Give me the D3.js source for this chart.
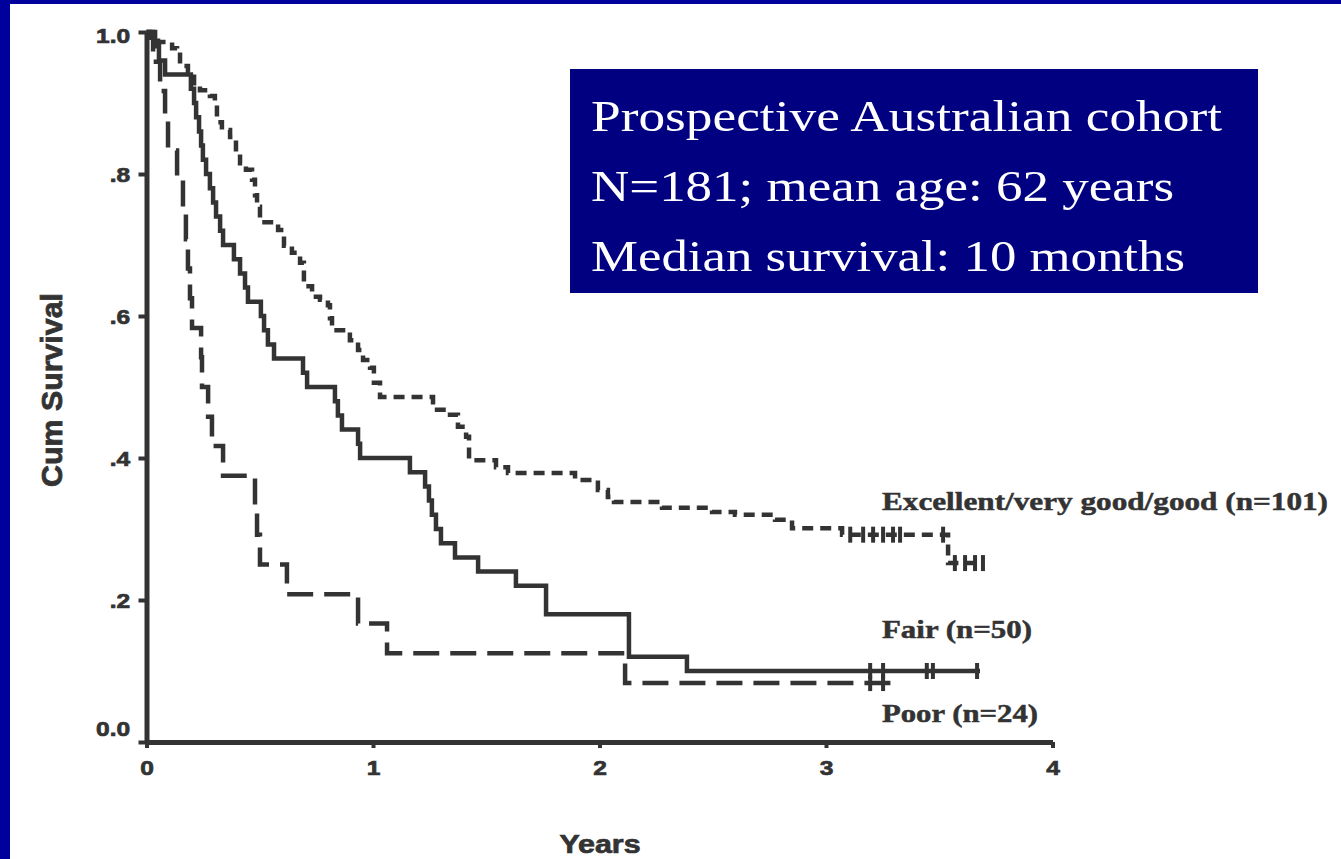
<!DOCTYPE html>
<html>
<head>
<meta charset="utf-8">
<script src="https://cdn.jsdelivr.net/npm/d3@7"></script>
<style>
  html, body { margin: 0; padding: 0; background: #ffffff; }
  svg { display: block; }
</style>
</head>
<body>
<svg id="chart" width="1341" height="859"></svg>
<script>
// Kaplan–Meier cumulative survival by performance-status group.
// Each group: times (years) at which survival steps down, and the level after the step.

const groupNames = ["Excellent/very good/good (n=101)", "Fair (n=50)", "Poor (n=24)"];

const excellentTimes = [0.015, 0.051, 0.113, 0.135, 0.148, 0.183, 0.210, 0.236, 0.280, 0.302,
  0.311, 0.333, 0.369, 0.395, 0.413, 0.439, 0.466, 0.479, 0.488, 0.501,
  0.581, 0.607, 0.642, 0.678, 0.695, 0.731, 0.766, 0.801, 0.810, 0.819,
  0.898, 0.934, 0.956, 0.987, 1.004, 1.031, 1.265, 1.340, 1.375, 1.411,
  1.424, 1.543, 1.596, 1.892, 1.993, 2.037, 2.064, 2.276, 2.497, 2.598,
  2.775, 2.850, 3.071, 3.539];
const excellentSurv = [0.992, 0.986, 0.977, 0.968, 0.952, 0.944, 0.924, 0.918, 0.910, 0.899,
  0.873, 0.862, 0.852, 0.831, 0.815, 0.806, 0.792, 0.770, 0.754, 0.732,
  0.721, 0.699, 0.689, 0.675, 0.642, 0.627, 0.623, 0.615, 0.597, 0.580,
  0.566, 0.552, 0.538, 0.527, 0.506, 0.486, 0.468, 0.461, 0.444, 0.430,
  0.397, 0.387, 0.379, 0.369, 0.355, 0.345, 0.338, 0.330, 0.324, 0.320,
  0.313, 0.301, 0.292, 0.252];
const excellentCensored = [3.107, 3.164, 3.208, 3.252, 3.296, 3.327, 3.517, 3.569, 3.614, 3.658, 3.693];
const excellentEnd = 3.693;

const fairTimes = [0.038, 0.055, 0.082, 0.196, 0.210, 0.219, 0.232, 0.241, 0.249, 0.263,
  0.280, 0.294, 0.307, 0.325, 0.338, 0.386, 0.413, 0.435, 0.448, 0.505,
  0.519, 0.536, 0.563, 0.691, 0.709, 0.832, 0.845, 0.863, 0.934, 0.943,
  1.163, 1.230, 1.247, 1.260, 1.278, 1.300, 1.362, 1.464, 1.631, 1.764,
  2.130, 2.386];
const fairSurv = [0.98, 0.96, 0.94, 0.92, 0.90, 0.88, 0.86, 0.84, 0.82, 0.80,
  0.78, 0.76, 0.74, 0.72, 0.70, 0.68, 0.66, 0.64, 0.62, 0.60,
  0.58, 0.56, 0.54, 0.52, 0.50, 0.48, 0.46, 0.44, 0.42, 0.40,
  0.38, 0.36, 0.34, 0.32, 0.30, 0.28, 0.26, 0.24, 0.22, 0.18,
  0.12, 0.10];
const fairCensored = [3.195, 3.252, 3.445, 3.472, 3.667];
const fairEnd = 3.680;

const poorTimes = [0.029, 0.060, 0.082, 0.095, 0.135, 0.161, 0.174, 0.183, 0.192, 0.201,
  0.241, 0.245, 0.272, 0.289, 0.338, 0.479, 0.488, 0.501, 0.620, 0.934,
  1.062, 2.113];
const poorSurv = [0.958, 0.917, 0.875, 0.833, 0.792, 0.750, 0.708, 0.667, 0.625, 0.583,
  0.542, 0.500, 0.458, 0.417, 0.375, 0.333, 0.292, 0.250, 0.208, 0.167,
  0.125, 0.083];
const poorCensored = [3.195, 3.252];
const poorEnd = 3.296;

const xTickValues = [0, 1, 2, 3, 4];
const yTickValues = [0, 0.2, 0.4, 0.6, 0.8, 1.0];
const yTickLabels = ["0.0", ".2", ".4", ".6", ".8", "1.0"];

const xTitle = "Years";
const yTitle = "Cum Survival";
const infoLines = ["Prospective Australian cohort", "N=181; mean age: 62 years", "Median survival: 10 months"];

// ---------------------------------------------------------------------------

const svg = d3.select("#chart");
const W = 1341, H = 859;
const ink = "#333333";
const stretch = 1.17;   // slide content is rendered slightly wide

svg.append("rect").attr("width", W).attr("height", H).attr("fill", "#ffffff");
// slide frame on the left and top
svg.append("rect").attr("x", 0).attr("y", 0).attr("width", 10).attr("height", H).attr("fill", "#00009c");
svg.append("rect").attr("x", 0).attr("y", 0).attr("width", W).attr("height", 4).attr("fill", "#00009c");

const x = d3.scaleLinear().domain([0, 4]).range([146.5, 1052.5]);
const y = d3.scaleLinear().domain([0, 1]).range([742, 32]);

// axes
const yAxis = d3.axisLeft(y)
  .tickValues(yTickValues)
  .tickFormat((d, i) => yTickLabels[i])
  .tickSize(8).tickSizeOuter(0).tickPadding(6);
const xAxis = d3.axisBottom(x)
  .tickValues(xTickValues)
  .tickFormat(d3.format("d"))
  .tickSize(6).tickSizeOuter(0).tickPadding(12);

const gy = svg.append("g").attr("transform", `translate(${x(0)},0)`).call(yAxis);
const gx = svg.append("g").attr("transform", `translate(0,${y(0)})`).call(xAxis);

[gx, gy].forEach(g => {
  g.select(".domain").attr("stroke", ink).attr("stroke-width", 5);
  g.selectAll(".tick line").attr("stroke", ink).attr("stroke-width", 4);
  g.selectAll(".tick text")
    .attr("fill", ink)
    .attr("stroke", ink).attr("stroke-width", 0.7)
    .style("font-family", "'Liberation Sans', Arial, sans-serif")
    .style("font-weight", "bold")
    .style("font-size", "21px");
});
gy.selectAll(".tick text")
  .attr("transform", d => `translate(0,${d === 0 ? -13 : (d === 1 ? 4 : 1)}) scale(${stretch},1)`);
gx.selectAll(".tick text").attr("transform", `scale(${stretch},1)`);

// survival curves
const line = d3.line()
  .x(d => x(d[0]))
  .y(d => y(d[1]))
  .curve(d3.curveStepAfter);

const series = [
  { times: excellentTimes, surv: excellentSurv, cens: excellentCensored, end: excellentEnd, dash: "11,7" },
  { times: fairTimes, surv: fairSurv, cens: fairCensored, end: fairEnd, dash: null },
  { times: poorTimes, surv: poorSurv, cens: poorCensored, end: poorEnd, dash: "26,11" }
];

function levelAt(s, t) {
  let v = 1;
  for (let i = 0; i < s.times.length; i++) if (s.times[i] <= t) v = s.surv[i];
  return v;
}

series.forEach(s => {
  const pts = [[0, 1]];
  s.times.forEach((t, i) => pts.push([t, s.surv[i]]));
  pts.push([s.end, s.surv[s.surv.length - 1]]);
  svg.append("path")
    .attr("d", line(pts))
    .attr("fill", "none")
    .attr("stroke", ink)
    .attr("stroke-width", 4.5)
    .attr("stroke-dasharray", s.dash)
    .attr("stroke-linejoin", "miter");

  svg.append("g").selectAll("line")
    .data(s.cens)
    .join("line")
    .attr("x1", d => x(d)).attr("x2", d => x(d))
    .attr("y1", d => y(levelAt(s, d)) - 8)
    .attr("y2", d => y(levelAt(s, d)) + 8)
    .attr("stroke", ink)
    .attr("stroke-width", 4);
});

// group labels
const labelPos = [
  { x: 882, y: 510, len: 446 },
  { x: 882, y: 638, len: 150 },
  { x: 882, y: 722, len: 156 }
];
svg.append("g").selectAll("text")
  .data(groupNames)
  .join("text")
  .attr("x", (d, i) => labelPos[i].x)
  .attr("y", (d, i) => labelPos[i].y)
  .attr("textLength", (d, i) => labelPos[i].len)
  .attr("lengthAdjust", "spacingAndGlyphs")
  .attr("fill", ink)
  .attr("stroke", ink).attr("stroke-width", 0.5)
  .style("font-family", "'Liberation Serif', 'Times New Roman', serif")
  .style("font-weight", "bold")
  .style("font-size", "26px")
  .text(d => d);

// axis titles
svg.append("text")
  .attr("transform", `translate(600,853) scale(${stretch},1)`)
  .attr("text-anchor", "middle")
  .attr("fill", ink).attr("stroke", ink).attr("stroke-width", 0.7)
  .style("font-family", "'Liberation Sans', Arial, sans-serif")
  .style("font-weight", "bold").style("font-size", "26px")
  .text(xTitle);

svg.append("text")
  .attr("transform", `translate(62,390) rotate(-90) scale(1,${stretch})`)
  .attr("text-anchor", "middle")
  .attr("textLength", 194).attr("lengthAdjust", "spacingAndGlyphs")
  .attr("fill", ink).attr("stroke", ink).attr("stroke-width", 0.7)
  .style("font-family", "'Liberation Sans', Arial, sans-serif")
  .style("font-weight", "bold").style("font-size", "26px")
  .text(yTitle);

// study summary box
svg.append("rect")
  .attr("x", 570).attr("y", 69).attr("width", 688).attr("height", 224)
  .attr("fill", "#000080");
const infoLen = [631, 583, 594];
svg.append("g").selectAll("text")
  .data(infoLines)
  .join("text")
  .attr("x", 591)
  .attr("y", (d, i) => 131 + i * 70)
  .attr("textLength", (d, i) => infoLen[i])
  .attr("lengthAdjust", "spacingAndGlyphs")
  .attr("fill", "#ffffff")
  .style("font-family", "'Liberation Serif', 'Times New Roman', serif")
  .style("font-size", "44px")
  .text(d => d);
</script>
</body>
</html>
